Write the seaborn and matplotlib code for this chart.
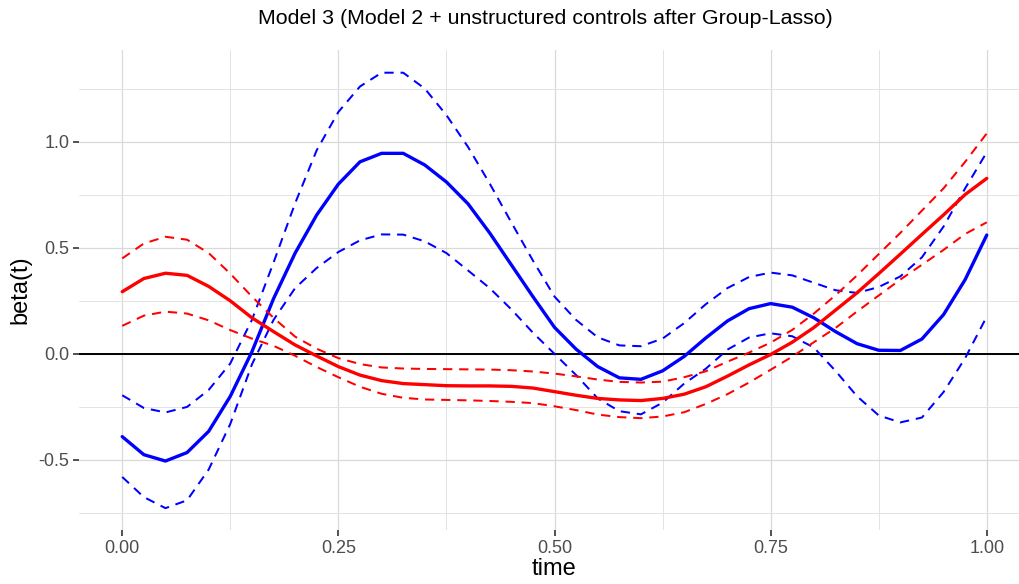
import numpy as np
import pandas as pd
import matplotlib
matplotlib.use("Agg")
import matplotlib.pyplot as plt
import seaborn as sns

# ── data (grid step 0.025) ─────────────────────────────────────────────────
time = np.round(np.arange(0, 41) * 0.025, 3)

blue_est = [-0.39, -0.475, -0.505, -0.465, -0.365, -0.20, 0.01, 0.26, 0.475, 0.655,
            0.80, 0.905, 0.945, 0.945, 0.89, 0.81, 0.707, 0.57, 0.42, 0.27,
            0.125, 0.022, -0.06, -0.113, -0.12, -0.08, -0.012, 0.075, 0.155, 0.213,
            0.237, 0.22, 0.17, 0.105, 0.048, 0.017, 0.016, 0.07, 0.185, 0.35, 0.56]
blue_upper = [-0.195, -0.255, -0.276, -0.25, -0.17, -0.045, 0.16, 0.43, 0.71, 0.96,
              1.14, 1.26, 1.325, 1.325, 1.25, 1.125, 0.975, 0.803, 0.62, 0.44,
              0.27, 0.16, 0.078, 0.04, 0.036, 0.072, 0.145, 0.234, 0.31, 0.362,
              0.383, 0.37, 0.335, 0.30, 0.287, 0.315, 0.365, 0.455, 0.60, 0.78, 0.95]
blue_lower = [-0.58, -0.675, -0.727, -0.69, -0.545, -0.33, -0.05, 0.16, 0.31, 0.405,
              0.48, 0.535, 0.563, 0.562, 0.53, 0.475, 0.393, 0.31, 0.21, 0.10,
              0.0, -0.10, -0.21, -0.27, -0.285, -0.23, -0.14, -0.07, 0.02, 0.077,
              0.097, 0.083, 0.03, -0.08, -0.20, -0.29, -0.323, -0.30, -0.18, -0.02, 0.176]

red_est = [0.293, 0.355, 0.38, 0.37, 0.318, 0.25, 0.17, 0.105, 0.042, -0.01,
           -0.06, -0.10, -0.126, -0.14, -0.145, -0.15, -0.151, -0.151, -0.153, -0.161,
           -0.178, -0.195, -0.21, -0.217, -0.22, -0.21, -0.19, -0.155, -0.105, -0.052,
           -0.003, 0.055, 0.124, 0.206, 0.288, 0.378, 0.47, 0.563, 0.655, 0.751, 0.827]
red_upper = [0.45, 0.52, 0.552, 0.538, 0.475, 0.378, 0.27, 0.17, 0.081, 0.024,
             -0.02, -0.048, -0.064, -0.069, -0.071, -0.072, -0.073, -0.074, -0.077, -0.083,
             -0.093, -0.106, -0.121, -0.132, -0.135, -0.131, -0.11, -0.082, -0.037, 0.006,
             0.053, 0.113, 0.19, 0.276, 0.37, 0.47, 0.57, 0.675, 0.78, 0.905, 1.039]
red_lower = [0.132, 0.18, 0.199, 0.19, 0.158, 0.112, 0.072, 0.038, -0.009, -0.062,
             -0.11, -0.155, -0.188, -0.207, -0.215, -0.217, -0.219, -0.222, -0.226, -0.232,
             -0.247, -0.265, -0.286, -0.298, -0.303, -0.295, -0.275, -0.236, -0.19, -0.135,
             -0.075, -0.013, 0.055, 0.122, 0.2, 0.275, 0.35, 0.42, 0.49, 0.565, 0.62]

TITLE = "Model 3 (Model 2 + unstructured controls after Group-Lasso)"

series = {
    ("blue", "estimate"): blue_est,
    ("blue", "upper"): blue_upper,
    ("blue", "lower"): blue_lower,
    ("red", "estimate"): red_est,
    ("red", "upper"): red_upper,
    ("red", "lower"): red_lower,
}

df = pd.concat(
    [pd.DataFrame({"time": time, "beta": vals, "model": m, "band": b})
     for (m, b), vals in series.items()],
    ignore_index=True,
)

# ── plot ───────────────────────────────────────────────────────────────────
sns.set_theme(style="white")
plt.rcParams["font.family"] = ["Liberation Sans", "DejaVu Sans"]

fig = plt.figure(figsize=(10.19, 5.84), dpi=100)
ax = fig.add_axes([79 / 1019, 54 / 584, 951 / 1019, 480 / 584])

ax.set_xticks([0, 0.25, 0.5, 0.75, 1.0])
ax.set_xticks([0.125, 0.375, 0.625, 0.875], minor=True)
ax.set_yticks([-0.5, 0.0, 0.5, 1.0])
ax.set_yticks([-0.75, -0.25, 0.25, 0.75, 1.25], minor=True)
ax.grid(which="major", color="#d9d9d9", linewidth=0.9)
ax.grid(which="minor", color="#e3e3e3", linewidth=0.7)
ax.set_axisbelow(True)

ax.axhline(0, color="black", linewidth=1.4, zorder=2)

sns.lineplot(
    data=df, x="time", y="beta",
    hue="model", style="band", size="band",
    palette={"blue": "#0000ff", "red": "#ff0000"},
    dashes={"estimate": "", "upper": (4.6, 3.4), "lower": (4.6, 3.4)},
    sizes={"estimate": 2.4, "upper": 1.45, "lower": 1.45},
    estimator=None, sort=False, legend=False, ax=ax, zorder=3,
)

ax.set_xlim(-0.05, 1.05)
ax.set_ylim(-0.83, 1.432)
ax.set_xticklabels(["0.00", "0.25", "0.50", "0.75", "1.00"])
ax.set_yticklabels(["-0.5", "0.0", "0.5", "1.0"])

for side in ax.spines.values():
    side.set_visible(False)

ax.tick_params(axis="both", which="major", length=4, width=1.2, color="#333333",
               labelsize=13, labelcolor="#4d4d4d", pad=3)
ax.tick_params(axis="both", which="minor", length=0)
ax.tick_params(axis="x", bottom=True)
ax.tick_params(axis="y", left=True)

ax.set_xlabel("time", fontsize=17, color="black", labelpad=1)
ax.set_ylabel("beta(t)", fontsize=17, color="black", labelpad=5)

fig.text(545 / 1019, 1 - 19 / 584, TITLE, ha="center", va="center",
         fontsize=15.4, color="black")

fig.savefig("out.png", dpi=100)
plt.close(fig)
